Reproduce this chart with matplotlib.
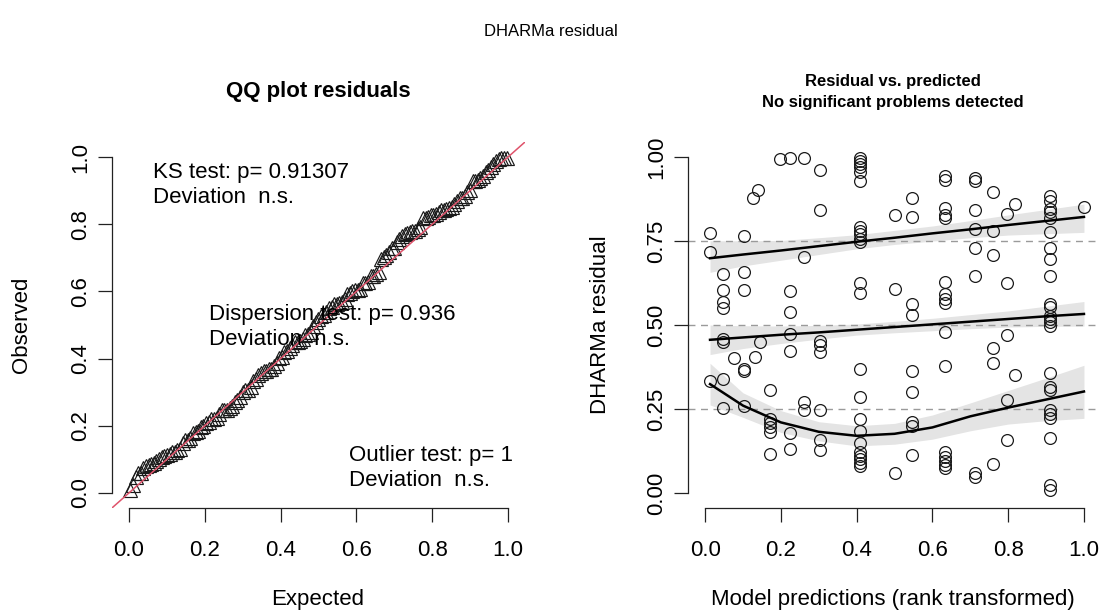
import numpy as np
import matplotlib.pyplot as plt

plt.rcParams['font.family'] = ['Liberation Sans', 'DejaVu Sans']

# scaled residuals, read column by column (x = rank transformed prediction)
pred_rank = ([0.013] * 3 + [0.048] * 8 + [0.077] + [0.102] * 6 + [0.126] + [0.133] + [0.139] + [0.145]
             + [0.172] * 6 + [0.199] + [0.225] * 7 + [0.262] * 4 + [0.302] * 8 + [0.410] * 23
             + [0.500] * 3 + [0.546] * 9 + [0.634] * 16 + [0.712] * 8 + [0.759] * 6 + [0.796] * 5
             + [0.819] * 2 + [0.911] * 24 + [1.000])
resid = [0.774, 0.719, 0.334,
         0.652, 0.605, 0.570, 0.551, 0.458, 0.449, 0.339, 0.252,
         0.401,
         0.766, 0.657, 0.605, 0.369, 0.362, 0.258,
         0.878, 0.406, 0.903, 0.448,
         0.307, 0.220, 0.208, 0.195, 0.181, 0.116,
         0.994,
         0.999, 0.600, 0.538, 0.473, 0.424, 0.178, 0.131,
         0.997, 0.704, 0.270, 0.248,
         0.962, 0.842, 0.453, 0.440, 0.419, 0.248, 0.159, 0.129,
         0.999, 0.990, 0.980, 0.970, 0.955, 0.928, 0.791, 0.781, 0.771, 0.756, 0.746, 0.625,
         0.595, 0.369, 0.285, 0.220, 0.184, 0.149, 0.121, 0.111, 0.101, 0.089, 0.079,
         0.827, 0.607, 0.060,
         0.878, 0.822, 0.563, 0.531, 0.364, 0.300, 0.210, 0.200, 0.114,
         0.944, 0.932, 0.850, 0.827, 0.820, 0.627, 0.592, 0.577, 0.567, 0.478, 0.379, 0.121,
         0.108, 0.096, 0.084, 0.074,
         0.938, 0.929, 0.842, 0.787, 0.729, 0.647, 0.060, 0.047,
         0.895, 0.781, 0.709, 0.431, 0.387, 0.086,
         0.830, 0.625, 0.471, 0.277, 0.159,
         0.860, 0.351,
         0.883, 0.868, 0.845, 0.837, 0.818, 0.776, 0.729, 0.696, 0.645, 0.563, 0.553, 0.528,
         0.518, 0.508, 0.498, 0.357, 0.315, 0.305, 0.248, 0.235, 0.222, 0.164, 0.022, 0.010,
         0.852]

# quantile regression fits (0.25 / 0.5 / 0.75) with bands
q_x = [0.013, 0.1, 0.2, 0.3, 0.4, 0.5, 0.6, 0.7, 0.8, 0.9, 1.0]
q75 = [0.699, 0.710, 0.722, 0.735, 0.748, 0.760, 0.773, 0.785, 0.798, 0.810, 0.822]
q75_lo = [0.657, 0.676, 0.693, 0.710, 0.727, 0.740, 0.750, 0.760, 0.768, 0.772, 0.776]
q75_hi = [0.751, 0.751, 0.752, 0.760, 0.769, 0.782, 0.795, 0.811, 0.828, 0.844, 0.860]
q50 = [0.456, 0.463, 0.471, 0.478, 0.486, 0.494, 0.502, 0.510, 0.518, 0.526, 0.533]
q50_lo = [0.412, 0.430, 0.445, 0.458, 0.470, 0.477, 0.483, 0.489, 0.494, 0.496, 0.497]
q50_hi = [0.500, 0.498, 0.497, 0.499, 0.503, 0.511, 0.520, 0.531, 0.542, 0.556, 0.570]
q25 = [0.324, 0.260, 0.210, 0.182, 0.170, 0.176, 0.195, 0.228, 0.254, 0.278, 0.302]
q25_lo = [0.262, 0.225, 0.180, 0.155, 0.140, 0.145, 0.160, 0.185, 0.205, 0.215, 0.222]
q25_hi = [0.386, 0.298, 0.245, 0.212, 0.200, 0.207, 0.232, 0.268, 0.305, 0.342, 0.380]

ticks01 = [0.0, 0.2, 0.4, 0.6, 0.8, 1.0]
qticks = [0.0, 0.25, 0.5, 0.75, 1.0]

W, H = 1103, 615
fig = plt.figure(figsize=(W / 100, H / 100), dpi=100)


def px(x, y):
    # pixel position (from top-left) -> figure fraction
    return x / W, 1 - y / H


def r_style(ax, yticks, ylabels):
    ax.set_xlim(-0.045, 1.045)
    ax.set_ylim(-0.045, 1.045)
    for s in ['top', 'right']:
        ax.spines[s].set_visible(False)
    for s in ['left', 'bottom']:
        ax.spines[s].set_bounds(0, 1)
        ax.spines[s].set_linewidth(0.9)
        ax.spines[s].set_color('#222222')
    ax.set_xticks(ticks01)
    ax.set_xticklabels(['0.0', '0.2', '0.4', '0.6', '0.8', '1.0'])
    ax.set_yticks(yticks)
    ax.set_yticklabels(ylabels, rotation=90, va='center')
    ax.tick_params(direction='out', length=10, width=0.9, color='#222222', labelsize=16)
    ax.tick_params(axis='x', pad=13)
    ax.tick_params(axis='y', pad=5)


# left: QQ plot
ax1 = fig.add_axes([0.1015, 0.174, 0.3744, 0.595])
obs = np.sort(resid)
n = len(obs)
expected = (np.arange(1, n + 1) - 0.5) / n
ax1.plot(expected, obs, linestyle='none', marker='^', markersize=10,
         markerfacecolor='none', markeredgecolor='#1a1a1a', markeredgewidth=0.85)
ax1.axline((0, 0), slope=1, color='#DF536B', lw=1.1)
r_style(ax1, ticks01, ['0.0', '0.2', '0.4', '0.6', '0.8', '1.0'])
ax1.text(0.063, 0.917, 'KS test: p= 0.91307\nDeviation  n.s.', fontsize=16,
         va='center', linespacing=1.25)
ax1.text(0.211, 0.493, 'Dispersion test: p= 0.936\nDeviation  n.s.', fontsize=16,
         va='center', linespacing=1.25)
ax1.text(0.58, 0.073, 'Outlier test: p= 1\nDeviation  n.s.', fontsize=16,
         va='center', linespacing=1.25)

# right: residual vs predicted
ax2 = fig.add_axes([0.6238, 0.174, 0.3744, 0.595])
for lo, hi in [(q25_lo, q25_hi), (q50_lo, q50_hi), (q75_lo, q75_hi)]:
    ax2.fill_between(q_x, lo, hi, color='#E4E4E4', lw=0)
for h in [0.25, 0.5, 0.75]:
    ax2.axhline(h, color='#9A9A9A', lw=1, ls=(0, (5, 4)))
ax2.plot(pred_rank, resid, linestyle='none', marker='o', markersize=8.5,
         markerfacecolor='none', markeredgecolor='#1a1a1a', markeredgewidth=0.9)
for mid in [q25, q50, q75]:
    ax2.plot(q_x, mid, color='black', lw=1.8)
r_style(ax2, qticks, ['0.00', '0.25', '0.50', '0.75', '1.00'])

# titles and axis labels (R-style placement)
fig.text(*px(551, 32), 'DHARMa residual', ha='center', va='center', fontsize=12)
fig.text(*px(318, 92), 'QQ plot residuals', ha='center', va='center',
         fontsize=16, fontweight='bold')
fig.text(*px(893, 92), 'Residual vs. predicted\nNo significant problems detected',
         ha='center', va='center', fontsize=12, fontweight='bold', linespacing=1.5)
fig.text(*px(318, 600), 'Expected', ha='center', va='center', fontsize=16)
fig.text(*px(22, 325), 'Observed', ha='center', va='center', fontsize=16, rotation=90)
fig.text(*px(893, 600), 'Model predictions (rank transformed)', ha='center', va='center',
         fontsize=16)
fig.text(*px(600, 325), 'DHARMa residual', ha='center', va='center', fontsize=16,
         rotation=90)

fig.savefig('out.png', dpi=100)
